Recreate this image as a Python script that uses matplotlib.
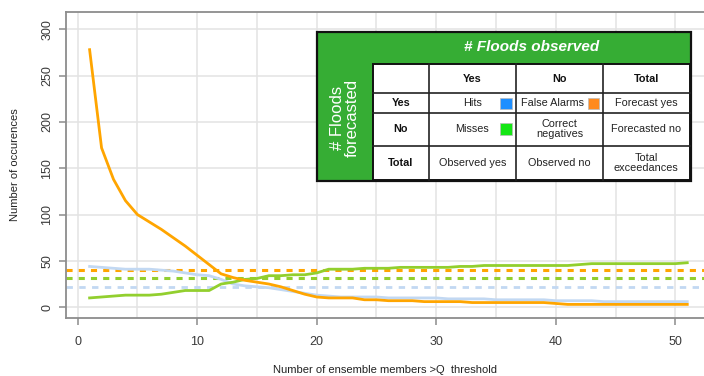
import numpy as np
import matplotlib
matplotlib.use("Agg")
import matplotlib.pyplot as plt
from matplotlib.patches import Rectangle

plt.rcParams['font.family'] = ['Liberation Sans', 'DejaVu Sans']

# Number of ensemble members exceeding the threshold
members = list(range(1, 52))

false_alarms = [278, 172, 138, 115, 100, 92, 84, 75, 66, 56,
                46, 36, 32, 29, 27, 25, 22, 18, 14, 11,
                10, 10, 10, 8, 8, 7, 7, 7, 6, 6,
                6, 6, 5, 5, 5, 5, 5, 5, 5, 4,
                3, 3, 3, 3, 3, 3, 3, 3, 3, 3, 3]
misses = [10, 11, 12, 13, 13, 13, 14, 16, 18, 18,
          18, 25, 27, 30, 31, 34, 34, 35, 35, 37,
          41, 41, 41, 42, 42, 42, 43, 43, 43, 43,
          43, 44, 44, 45, 45, 45, 45, 45, 45, 45,
          45, 46, 47, 47, 47, 47, 47, 47, 47, 47, 48]
hits = [44, 43, 42, 41, 41, 41, 40, 39, 37, 35,
        34, 30, 25, 23, 22, 21, 19, 17, 15, 13,
        12, 11, 11, 11, 11, 10, 10, 10, 10, 10,
        9, 9, 9, 9, 8, 8, 8, 8, 8, 7,
        7, 7, 7, 6, 6, 6, 6, 6, 6, 6, 6]

# Reference levels (dashed)
ref_false_alarms = 40
ref_misses = 32
ref_hits = 22

x_ticks = [0, 10, 20, 30, 40, 50]
y_ticks = [0, 50, 100, 150, 200, 250, 300]

c_orange = '#FFA500'
c_green = '#92CF2E'
c_blue = '#C2D8F2'

W, H = 704, 376
fig = plt.figure(figsize=(W / 100, H / 100), dpi=100)
ax = fig.add_axes([65.7 / W, 1 - 318.3 / H, 1 - 65.7 / W, (318.3 - 11.7) / H])

ax.set_xlim(-1, 52.4)
ax.set_ylim(-12, 319)

# grid
for gx in range(0, 55, 5):
    ax.axvline(gx, color='#E3E3E3', lw=1.1, zorder=0)
for gy in y_ticks:
    ax.axhline(gy, color='#E3E3E3', lw=1.1, zorder=0)

ax.axhline(ref_hits, color=c_blue, lw=2.0, dashes=(2.3, 2.3), zorder=2)
ax.axhline(ref_misses, color=c_green, lw=2.2, dashes=(2, 2), zorder=2)
ax.axhline(ref_false_alarms, color=c_orange, lw=2.2, dashes=(2, 2), zorder=2)

ax.plot(members, hits, color=c_blue, lw=2.0, zorder=3)
ax.plot(members, misses, color=c_green, lw=2.0, zorder=4)
ax.plot(members, false_alarms, color=c_orange, lw=2.0, zorder=5)

for s in ['left', 'bottom', 'top']:
    ax.spines[s].set_color('#8C8C8C')
    ax.spines[s].set_linewidth(1.3)
ax.spines['right'].set_visible(False)

ax.set_xticks(x_ticks)
ax.set_yticks(y_ticks)
ax.tick_params(axis='both', direction='out', length=5, width=1.1, color='#8C8C8C',
               labelsize=9, labelcolor='#3A3A3A')
ax.tick_params(axis='x', pad=8)
ax.tick_params(axis='y', pad=4)
for lab in ax.get_yticklabels():
    lab.set_rotation(90)
    lab.set_va('center')

ax.set_xlabel('Number of ensemble members >Q  threshold', fontsize=8, color='#222222',
              va='center')
ax.set_ylabel('Number of occurences', fontsize=8, color='#222222', va='center')
ax.xaxis.set_label_coords(0.5, (318.3 - 370) / (318.3 - 11.7))
ax.yaxis.set_label_coords((15 - 65.7) / (W - 65.7), 0.5)


# ---- contingency table drawn in figure pixel coordinates ----
def fx(x):
    return x / W


def fy(y):
    return 1 - y / H


def box(x0, y0, x1, y1, fc, ec='black', lw=1.0, z=10):
    fig.patches.append(Rectangle((fx(x0), fy(y1)), fx(x1) - fx(x0), fy(y0) - fy(y1),
                                 transform=fig.transFigure, facecolor=fc,
                                 edgecolor=ec, linewidth=lw, zorder=z))


def txt(x, y, s, **kw):
    fig.text(fx(x), fy(y), s, ha='center', va='center', zorder=20, **kw)


green_hdr = '#36AD34'
box(317.3, 31.7, 691, 181, green_hdr, ec='#111111', lw=1.6)
txt(532, 47, '# Floods observed', color='white', fontsize=11,
    fontweight='bold', fontstyle='italic')
txt(345, 118, '# Floods\nforecasted', color='white', fontsize=12,
    rotation=90, linespacing=1.0)

cols = [372.7, 429, 516, 602.7, 690]
rows = [64, 93.3, 112.7, 145.7, 180]
box(cols[0], rows[0], cols[-1], rows[-1], 'white', ec='#111111', lw=1.4, z=11)
for cx in cols[1:-1]:
    fig.add_artist(plt.Line2D([fx(cx), fx(cx)], [fy(rows[0]), fy(rows[-1])],
                              transform=fig.transFigure, color='#222222', lw=1.2, zorder=12))
for ry in rows[1:-1]:
    fig.add_artist(plt.Line2D([fx(cols[0]), fx(cols[-1])], [fy(ry), fy(ry)],
                              transform=fig.transFigure, color='#222222', lw=1.2, zorder=12))

cx_mid = [(cols[i] + cols[i + 1]) / 2 for i in range(4)]
ry_mid = [(rows[i] + rows[i + 1]) / 2 for i in range(4)]
fs = 7.8
header = ['', 'Yes', 'No', 'Total']
row_labels = ['Yes', 'No', 'Total']
for i, h in enumerate(header):
    if h:
        txt(cx_mid[i], ry_mid[0], h, fontsize=fs, fontweight='bold', color='#111111')
for j, r in enumerate(row_labels):
    txt(cx_mid[0], ry_mid[j + 1], r, fontsize=fs, fontweight='bold', color='#111111')

txt(472.3, ry_mid[1], 'Hits', fontsize=fs, color='#222222')
txt(552.7, ry_mid[1], 'False Alarms', fontsize=fs, color='#222222')
txt(cx_mid[3], ry_mid[1], 'Forecast yes', fontsize=fs, color='#222222')
txt(472.3, ry_mid[2], 'Misses', fontsize=fs, color='#222222')
txt(cx_mid[2], ry_mid[2], 'Correct\nnegatives', fontsize=fs, color='#222222', linespacing=1.0)
txt(cx_mid[3], ry_mid[2], 'Forecasted no', fontsize=fs, color='#222222')
txt(cx_mid[1], ry_mid[3], 'Observed yes', fontsize=fs, color='#222222')
txt(cx_mid[2], ry_mid[3], 'Observed no', fontsize=fs, color='#222222')
txt(cx_mid[3], ry_mid[3], 'Total\nexceedances', fontsize=fs, color='#222222', linespacing=1.0)

box(500, 97.7, 511.7, 109, '#1E8FFF', ec='#BBBBBB', lw=0.5, z=13)
box(587.7, 97.7, 599.3, 109, '#FF8A1E', ec='#BBBBBB', lw=0.5, z=13)
box(500, 122.7, 511.7, 135, '#14E614', ec='#BBBBBB', lw=0.5, z=13)

fig.savefig('out.png', dpi=100)
